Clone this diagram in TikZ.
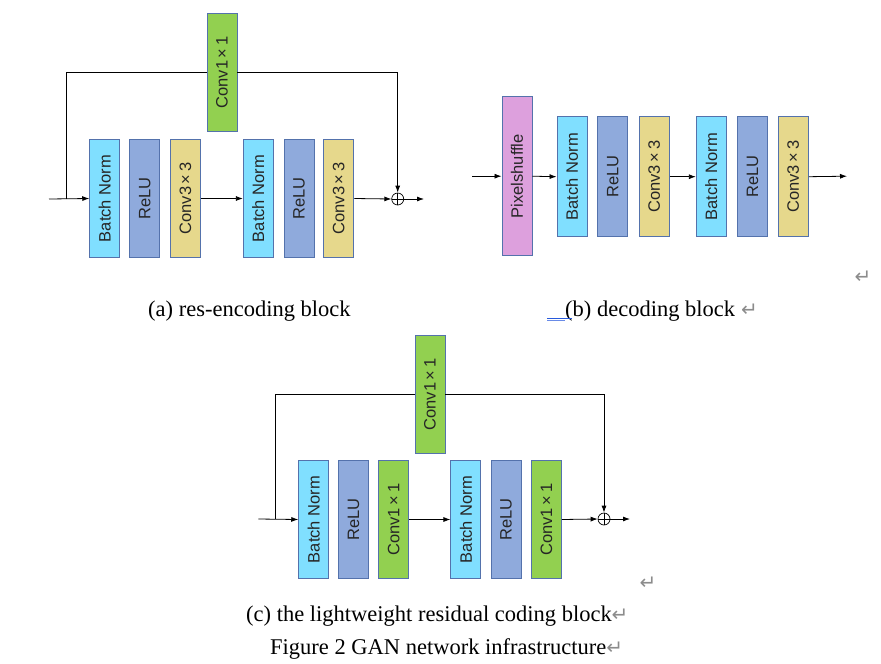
\documentclass[tikz,border=0pt]{standalone}
\usepackage{fontspec}
\setmainfont{Liberation Serif}
\setsansfont{Liberation Sans}
\newfontfamily\retfont{DejaVu Sans}
\usetikzlibrary{arrows.meta}

\definecolor{bnfill}{RGB}{128,223,255}
\definecolor{relufill}{RGB}{143,170,220}
\definecolor{convfill}{RGB}{230,216,140}
\definecolor{onefill}{RGB}{146,208,80}
\definecolor{psfill}{RGB}{221,160,221}
\definecolor{boxline}{RGB}{84,114,172}
\definecolor{retgray}{RGB}{140,140,140}
\definecolor{linkblue}{RGB}{40,90,220}

\tikzset{
  layer/.style={draw=boxline, line width=0.9pt, minimum width=30pt,
    minimum height=118pt, inner sep=0pt,
    font=\sffamily\fontsize{16.5}{16.5}\selectfont, text=black!85},
  bn/.style={layer, fill=bnfill},
  relu/.style={layer, fill=relufill},
  cthree/.style={layer, fill=convfill},
  cone/.style={layer, fill=onefill},
  pshuf/.style={layer, fill=psfill, minimum height=159pt},
  flow/.style={line width=0.8pt, -{Latex[length=7pt,width=5pt]}},
  wire/.style={line width=0.8pt},
  summer/.style={circle, draw, line width=0.7pt, minimum size=12pt, inner sep=0pt,
    path picture={\draw[line width=0.7pt]
      (path picture bounding box.north) -- (path picture bounding box.south)
      (path picture bounding box.west) -- (path picture bounding box.east);}},
  caption/.style={anchor=base west, inner sep=0pt,
    font=\fontsize{22.5}{22.5}\selectfont},
  ret/.style={text=retgray, font=\retfont\fontsize{20}{20}\selectfont, inner sep=0pt}
}
\newcommand{\vlabel}[1]{\rotatebox{90}{#1}}
\newcommand{\retmark}{{\color{retgray}\retfont\fontsize{20}{20}\selectfont ↵}}

\begin{document}
\begin{tikzpicture}[x=1pt, y=-1pt]
\useasboundingbox (0,0) rectangle (881,664);

% ---------- (a) res-encoding block ----------
\node[bn]     (a-bn1)   at (104.7,198.5) {\vlabel{Batch Norm}};
\node[relu]   (a-relu1) at (144.7,198.5) {\vlabel{ReLU}};
\node[cthree] (a-conv1) at (185.5,198.5) {\vlabel{Conv3\,×\,3}};
\node[bn]     (a-bn2)   at (258.3,198.5) {\vlabel{Batch Norm}};
\node[relu]   (a-relu2) at (299.0,198.5) {\vlabel{ReLU}};
\node[cthree] (a-conv2) at (338.8,198.5) {\vlabel{Conv3\,×\,3}};
\node[cone]   (a-skip)  at (222.0,72.5)  {\vlabel{Conv1\,×\,1}};
\node[summer] (a-sum)   at (397.7,199)   {};
\coordinate (a-in)    at (49,199);
\coordinate (a-split) at (66.7,199);
\coordinate (a-out)   at (424,199);

\draw[flow] (a-in) -- (a-bn1.west);
\draw[flow] (a-conv1.east) -- (a-bn2.west);
\draw[flow] (a-conv2.east) -- (a-sum.west);
\draw[flow] (a-sum.east) -- (a-out);
\draw[wire] (a-split) |- (a-skip.west);
\draw[flow] (a-skip.east) -| (a-sum.north);

% ---------- (b) decoding block ----------
\node[pshuf]  (b-ps)    at (517.0,176.2) {\vlabel{Pixelshuffle}};
\node[bn,     minimum height=120pt] (b-bn1)   at (572.0,176.7) {\vlabel{Batch Norm}};
\node[relu,   minimum height=120pt] (b-relu1) at (612.8,176.7) {\vlabel{ReLU}};
\node[cthree, minimum height=120pt] (b-conv1) at (654.3,176.7) {\vlabel{Conv3\,×\,3}};
\node[bn,     minimum height=120pt] (b-bn2)   at (711.3,176.7) {\vlabel{Batch Norm}};
\node[relu,   minimum height=120pt] (b-relu2) at (752.5,176.7) {\vlabel{ReLU}};
\node[cthree, minimum height=120pt] (b-conv2) at (793.3,176.7) {\vlabel{Conv3\,×\,3}};
\coordinate (b-in)  at (472,176.2);
\coordinate (b-out) at (847,176.2);

\draw[flow] (b-in) -- (b-ps.west);
\draw[flow] (b-ps.east) -- (b-bn1.west);
\draw[flow] (b-conv1.east) -- (b-bn2.west);
\draw[flow] (b-conv2.east) -- (b-out);

% ---------- (c) lightweight residual coding block ----------
\node[bn]     (c-bn1)   at (313.7,519.5) {\vlabel{Batch Norm}};
\node[relu]   (c-relu1) at (353.5,519.5) {\vlabel{ReLU}};
\node[cone]   (c-conv1) at (393.7,519.5) {\vlabel{Conv1\,×\,1}};
\node[bn]     (c-bn2)   at (465.9,519.5) {\vlabel{Batch Norm}};
\node[relu]   (c-relu2) at (506.0,519.5) {\vlabel{ReLU}};
\node[cone]   (c-conv2) at (546.4,519.5) {\vlabel{Conv1\,×\,1}};
\node[cone]   (c-skip)  at (430.0,394.5) {\vlabel{Conv1\,×\,1}};
\node[summer] (c-sum)   at (604,519)     {};
\coordinate (c-in)    at (258.3,519);
\coordinate (c-split) at (275.7,519);
\coordinate (c-out)   at (630,519);

\draw[flow] (c-in) -- (c-bn1.west);
\draw[flow] (c-conv1.east) -- (c-bn2.west);
\draw[flow] (c-conv2.east) -- (c-sum.west);
\draw[flow] (c-sum.east) -- (c-out);
\draw[wire] (c-split) |- (c-skip.west);
\draw[flow] (c-skip.east) -| (c-sum.north);

% ---------- captions ----------
\node[caption] (cap-a) at (148,316) {(a) res-encoding block};
\node[caption] (cap-b) at (565,316) {(b) decoding block\hspace{6pt}\retmark};
\draw[linkblue, line width=0.7pt] (547,318.2) -- (572,318.2);
\draw[linkblue!70, line width=0.6pt] (547,320.4) -- (565,320.4);
\node[caption] (cap-c) at (246,621) {(c) the lightweight residual coding block\retmark};
\node[caption] (cap-fig) at (270,654.5) {Figure 2 GAN network infrastructure\retmark};
\node[ret] (ret-b) at (863,277) {↵};
\node[ret] (ret-c) at (648,583) {↵};

\end{tikzpicture}
\end{document}
